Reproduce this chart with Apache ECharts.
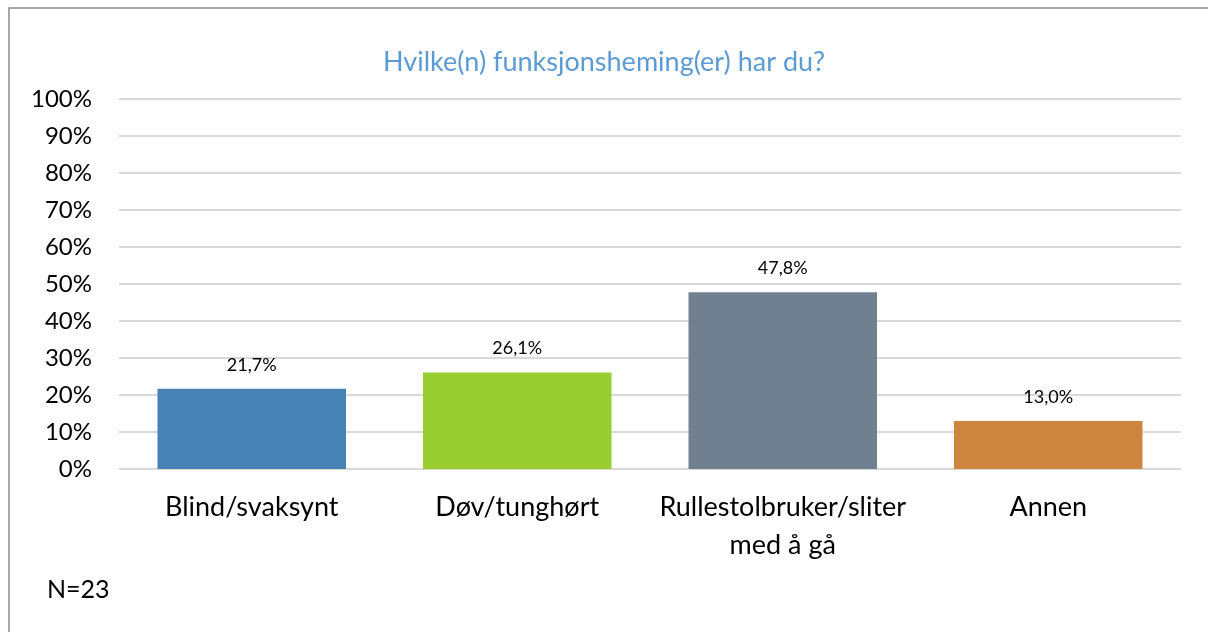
<!DOCTYPE html>
<html>
<head>
<meta charset="utf-8">
<script src="https://cdn.jsdelivr.net/npm/echarts@6/dist/echarts.min.js"></script>
<style>
  html, body { margin: 0; padding: 0; background: #fff; }
  #chart { width: 1208px; height: 632px; }
</style>
</head>
<body>
<div id="chart"></div>
<script>
const categories = ["Blind/svaksynt", "Døv/tunghørt", "Rullestolbruker/sliter\nmed å gå", "Annen"];
const values = [21.7, 26.1, 47.8, 13.0];
const barColors = ["#4682B4", "#9ACD32", "#708090", "#CD853F"];
const yTicks = [0, 10, 20, 30, 40, 50, 60, 70, 80, 90, 100];

const font = "Lato, 'Open Sans', sans-serif";
const myChart = echarts.init(document.getElementById("chart"));

myChart.setOption({
  animation: false,
  title: {
    text: "Hvilke(n) funksjonsheming(er) har du?",
    left: "center",
    top: 44,
    textStyle: { color: "#5B9BD5", fontSize: 27, fontWeight: "normal", fontFamily: font }
  },
  grid: { left: 119, right: 27, top: 99, bottom: 163 },
  xAxis: {
    type: "category",
    data: categories,
    axisLine: { show: false },
    axisTick: { show: false },
    axisLabel: { interval: 0, color: "#000", fontSize: 27, fontFamily: font, margin: 19, lineHeight: 38 }
  },
  yAxis: {
    type: "value",
    min: yTicks[0],
    max: yTicks[yTicks.length - 1],
    interval: 10,
    axisLine: { show: false },
    axisTick: { show: false },
    splitLine: { lineStyle: { color: "#D9D9D9", width: 2 } },
    axisLabel: { color: "#000", fontSize: 24, fontFamily: font, margin: 27, formatter: "{value}%" }
  },
  series: [{
    type: "bar",
    barWidth: "71%",
    data: values.map((v, i) => ({ value: v, itemStyle: { color: barColors[i] } })),
    label: {
      show: true,
      position: "top",
      distance: 15,
      color: "#000",
      fontSize: 18,
      fontFamily: font,
      formatter: p => p.value.toFixed(1).replace(".", ",") + "%"
    }
  }],
  graphic: [
    {
      type: "rect",
      shape: { x: 9, y: 8, width: 1400, height: 800 },
      style: { fill: "none", stroke: "#8C8C8C", lineWidth: 1.5 },
      silent: true
    },
    {
      type: "text",
      left: 47,
      top: 577,
      style: { text: "N=23", fill: "#000", fontSize: 25, fontFamily: font }
    }
  ]
});
</script>
</body>
</html>
